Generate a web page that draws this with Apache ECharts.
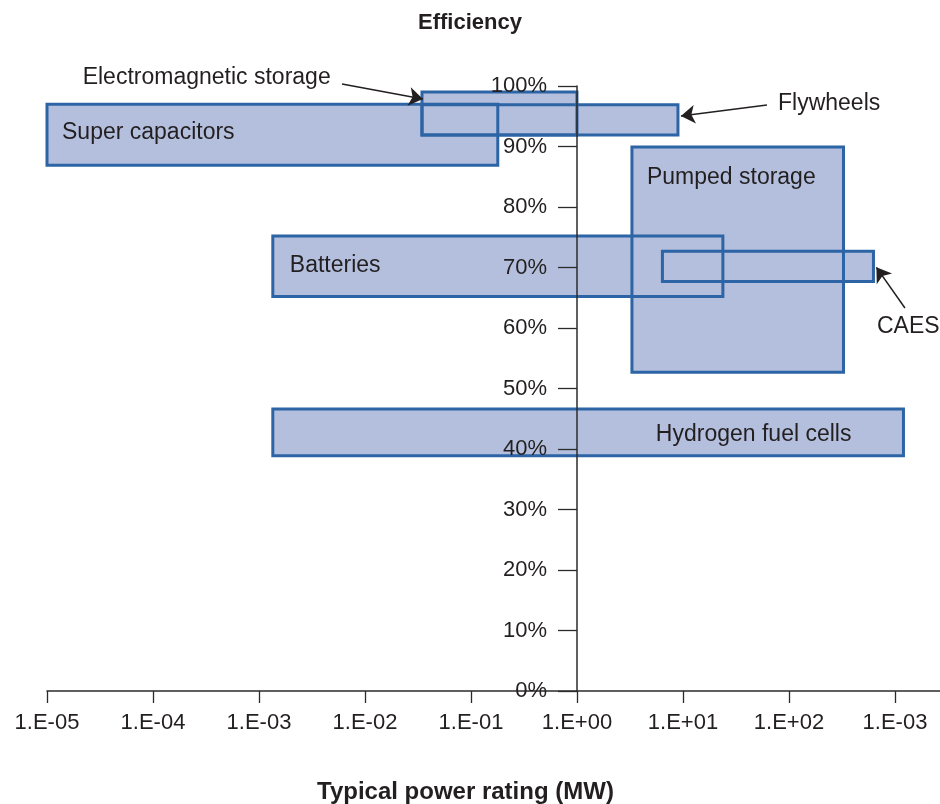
<!DOCTYPE html>
<html>
<head>
<meta charset="utf-8">
<script src="https://cdn.jsdelivr.net/npm/echarts@6/dist/echarts.min.js"></script>
<style>
html,body{margin:0;padding:0;background:#fff;}
#chart{width:940px;height:804px;}
</style>
</head>
<body>
<div id="chart"></div>
<script>
// ---- data (power in MW, efficiency in %) ----
const techNames  = ['Super capacitors','Electromagnetic storage','Flywheels','Pumped storage','Batteries','CAES','Hydrogen fuel cells'];
const powerLow   = [0.00001, 0.0345, 0.0345, 3.3, 0.00135, 6.4, 0.00135];
const powerHigh  = [0.179, 1.0, 8.97, 327, 23.8, 627, 1203];
const effLow     = [86.9, 91.9, 91.9, 52.7, 65.2, 67.7, 38.9];
const effHigh    = [97.0, 99.0, 96.9, 89.9, 75.2, 72.7, 46.6];

const xTickLabels = ['1.E-05','1.E-04','1.E-03','1.E-02','1.E-01','1.E+00','1.E+01','1.E+02','1.E-03'];
const xTickExponents = [-5,-4,-3,-2,-1,0,1,2,3];

// callout notes: label text, label anchor [MW, %], arrow from [MW,%] to [MW,%]
const noteTexts   = ['Electromagnetic storage','Flywheels','CAES'];
const noteAnchor  = [[0.0000217, 101.3],[78.8, 97.14],[676, 60.2]];
const arrowFrom   = [[0.00607, 100.33],[62, 96.86],[1242, 63.3]];
const arrowTo     = [[0.0352, 97.85],[9.57, 95.04],[668, 70.03]];

// ---- styling of in-box labels (pixel offsets) ----
const boxLabelStyle = [
  {side:'left', dx:15, dy:29},
  null,
  null,
  {side:'left', dx:15, dy:31},
  {side:'left', dx:17, dy:30},
  null,
  {side:'right', dx:-52, dy:26}
];

const FONT = 'Liberation Sans';
const TXT = '#231f20';
const FILL = '#b3bfdd';
const STROKE = '#2d64a5';
const AXIS = '#2b2b2b';

const X_MIN = -5, X_MAX = 3.425;
const GRID = {left:47, right:0, top:86, bottom:113};
const GRID_W = 940 - GRID.left - GRID.right;
// y axis sits at 1 MW (exponent 0): shift from the grid's left edge
const yAxisOffset = -GRID_W * (0 - X_MIN) / (X_MAX - X_MIN);

const lg = Math.log10;
const boxData = techNames.map((n,i)=>[lg(powerLow[i]), lg(powerHigh[i]), effLow[i], effHigh[i], i]);

function boxRect(api){
  const p0 = api.coord([api.value(0), api.value(3)]);
  const p1 = api.coord([api.value(1), api.value(2)]);
  return {x:p0[0], y:p0[1], width:p1[0]-p0[0], height:p1[1]-p0[1]};
}

const chart = echarts.init(document.getElementById('chart'), null, {renderer:'canvas'});
chart.setOption({
  animation:false,
  backgroundColor:'#fff',
  title:[
    {text:'Efficiency', left:'center', top:7,
     textStyle:{fontFamily:FONT, fontSize:22, fontWeight:'bold', color:TXT}},
    {text:'Typical power rating (MW)', left:312, top:775,
     textStyle:{fontFamily:FONT, fontSize:24, fontWeight:'bold', color:TXT}}
  ],
  grid:Object.assign({containLabel:false, outerBoundsMode:'none'}, GRID),
  xAxis:{
    type:'value', min:X_MIN, max:X_MAX, z:6,
    axisLine:{onZero:false, lineStyle:{color:AXIS, width:1.5}},
    axisTick:{show:true, length:12, customValues:xTickExponents, lineStyle:{color:AXIS, width:1.3}},
    axisLabel:{customValues:xTickExponents, margin:21,
      formatter:v=>xTickLabels[Math.round(v)+5],
      fontFamily:FONT, fontSize:22, color:TXT},
    splitLine:{show:false}
  },
  yAxis:{
    type:'value', min:0, max:100, interval:10, z:6,
    position:'left', offset:yAxisOffset,
    axisLine:{show:true, onZero:false, lineStyle:{color:AXIS, width:1.5}},
    axisTick:{show:true, length:19, lineStyle:{color:AXIS, width:1.3}},
    axisLabel:{margin:30, formatter:'{value}%', fontFamily:FONT, fontSize:22, color:TXT},
    splitLine:{show:false}
  },
  series:[
    {
      type:'custom', z:2, clip:false,
      data:boxData,
      encode:{x:[0,1], y:[2,3]},
      renderItem:(params, api)=>({
        type:'rect', shape:boxRect(api),
        style:{fill:FILL, stroke:null}
      })
    },
    {
      type:'custom', z:3, clip:false,
      data:boxData,
      encode:{x:[0,1], y:[2,3]},
      renderItem:(params, api)=>{
        const r = boxRect(api);
        const i = api.value(4);
        const children = [{
          type:'rect', shape:r,
          style:{fill:null, stroke:STROKE, lineWidth:3}
        }];
        const ls = boxLabelStyle[i];
        if (ls){
          children.push({
            type:'text',
            x: ls.side==='left' ? r.x + ls.dx : r.x + r.width + ls.dx,
            y: r.y + ls.dy,
            style:{text:techNames[i], fill:TXT, fontFamily:FONT, fontSize:23,
                   align: ls.side==='left' ? 'left' : 'right', verticalAlign:'middle'}
          });
        }
        return {type:'group', children};
      }
    },
    {
      type:'lines', coordinateSystem:'cartesian2d', z:4, clip:false,
      symbol:['none','arrow'], symbolSize:[0,14],
      lineStyle:{color:TXT, width:1.5, opacity:1, curveness:0},
      data:arrowFrom.map((f,i)=>({coords:[[lg(f[0]), f[1]],[lg(arrowTo[i][0]), arrowTo[i][1]]]}))
    },
    {
      type:'custom', z:5, clip:false,
      data:noteTexts.map((t,i)=>[lg(noteAnchor[i][0]), noteAnchor[i][1], i]),
      encode:{x:0, y:1},
      renderItem:(params, api)=>{
        const p = api.coord([api.value(0), api.value(1)]);
        return {type:'text', x:p[0], y:p[1],
          style:{text:noteTexts[api.value(2)], fill:TXT, fontFamily:FONT, fontSize:23,
                 align:'left', verticalAlign:'middle'}};
      }
    }
  ]
});
</script>
</body>
</html>
